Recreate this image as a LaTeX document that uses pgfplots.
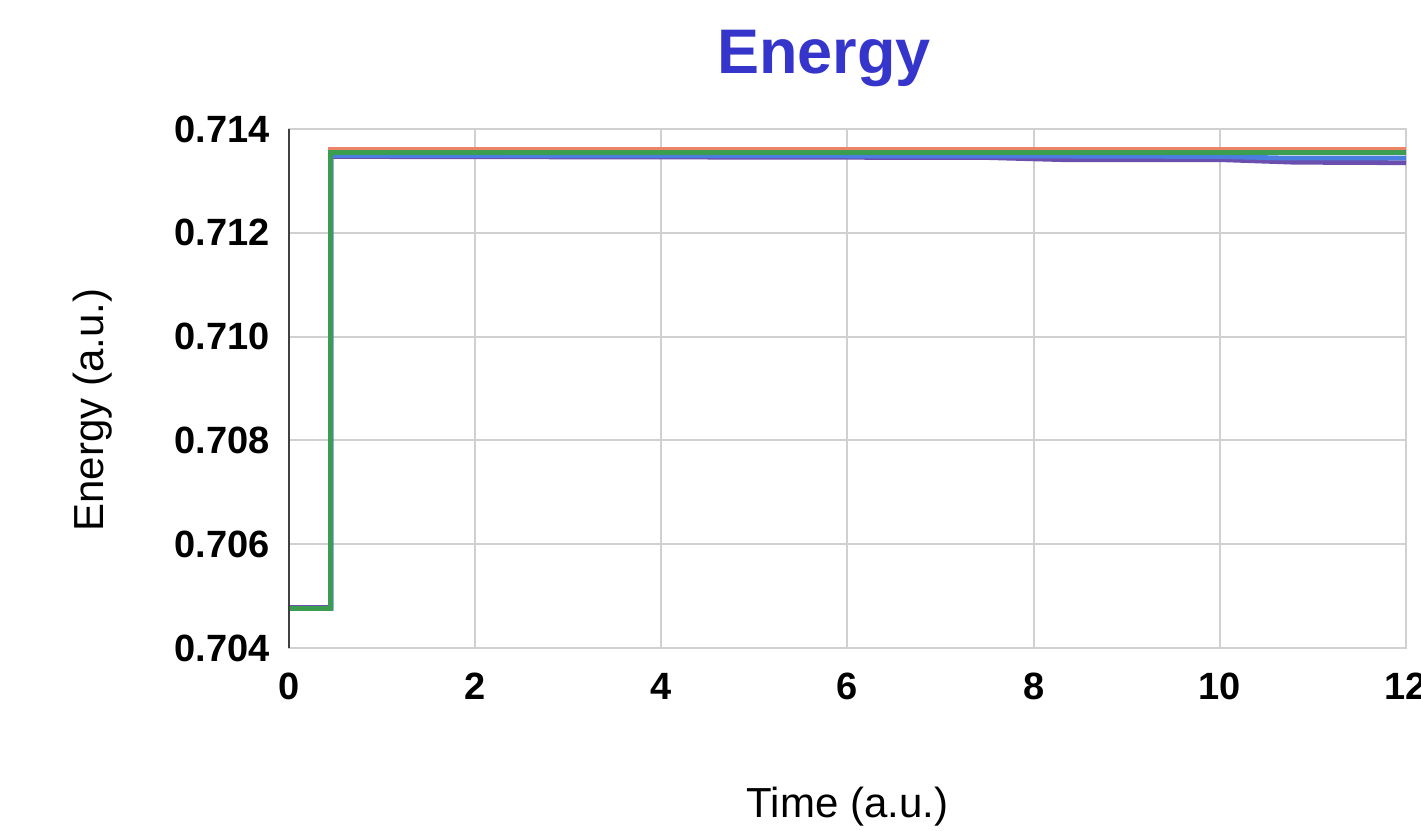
\documentclass[border=0pt]{standalone}
\usepackage{fontspec}
\setmainfont{Liberation Sans}
\usepackage{pgfplots}
\pgfplotsset{compat=1.18}
\definecolor{titleblue}{HTML}{3535CC}
\definecolor{cred}{HTML}{EE8466}
\definecolor{cgreen}{HTML}{3A9D50}
\definecolor{cblue}{HTML}{4A7FE0}
\definecolor{cpurple}{HTML}{6A4FAE}
\definecolor{gridgray}{HTML}{D0D0D0}
\begin{document}
\begin{tikzpicture}
\path[use as bounding box] (-144.5pt,-91.5pt) rectangle (566pt,324pt);
\clip (-144.5pt,-91.5pt) rectangle (566pt,324pt);
\begin{axis}[
  at={(0,0)}, anchor=south west,
  scale only axis, width=558.5pt, height=259.5pt,
  xmin=0, xmax=12, ymin=0.704, ymax=0.714,
  xtick={0,2,...,12},
  ytick={0.704,0.706,0.708,0.710,0.712,0.714},
  /pgf/number format/assume math mode=true,
  yticklabel style={/pgf/number format/.cd, fixed, precision=3, zerofill, /tikz/.cd,
     font=\fontsize{19}{22}\selectfont\bfseries, anchor=east, inner sep=0pt, xshift=-9.5pt},
  xticklabel style={font=\fontsize{19}{22}\selectfont\bfseries, anchor=north, inner sep=0pt, yshift=-12.5pt},
  scaled y ticks=false,
  grid=major,
  grid style={draw=gridgray, line width=1pt},
  major tick length=0pt,
  axis line style={draw=gridgray, line width=1pt},
  title={Energy},
  title style={font=\fontsize{31.5}{36}\selectfont\bfseries, text=titleblue, at={(0.479,1)}, anchor=base, yshift=22pt},
  xlabel={Time (a.u.)},
  xlabel style={font=\fontsize{21}{25}\selectfont, at={(0.5,0)}, anchor=base, yshift=-84.5pt},
  ylabel={Energy (a.u.)},
  ylabel style={font=\fontsize{21}{25}\selectfont, at={(axis description cs:-0.1665,0.4586)}, anchor=base, rotate=0},
  clip=false,
  every axis plot/.append style={line width=2.4pt, line join=miter},
]
\addplot[cred] coordinates {(0,0.70478) (0.45,0.70478) (0.45,0.71361) (12,0.71361)};
\addplot[cpurple] coordinates {(0,0.70478) (0.45,0.70478) (0.45,0.71347) (4,0.71346) (7.5,0.71345) (8.3,0.71341) (10,0.71341) (10.8,0.71336) (12,0.71335)};
\addplot[cblue] coordinates {(0,0.70476) (0.45,0.70476) (0.45,0.71349) (8,0.71348) (10,0.71347) (10.7,0.71344) (12,0.71344)};
\addplot[cgreen] coordinates {(0,0.70476) (0.45,0.70476) (0.45,0.71355) (12,0.71355)};
\draw[black!75, line width=1pt] (rel axis cs:0,0) -- (rel axis cs:0,1);
\end{axis}
\end{tikzpicture}
\end{document}
